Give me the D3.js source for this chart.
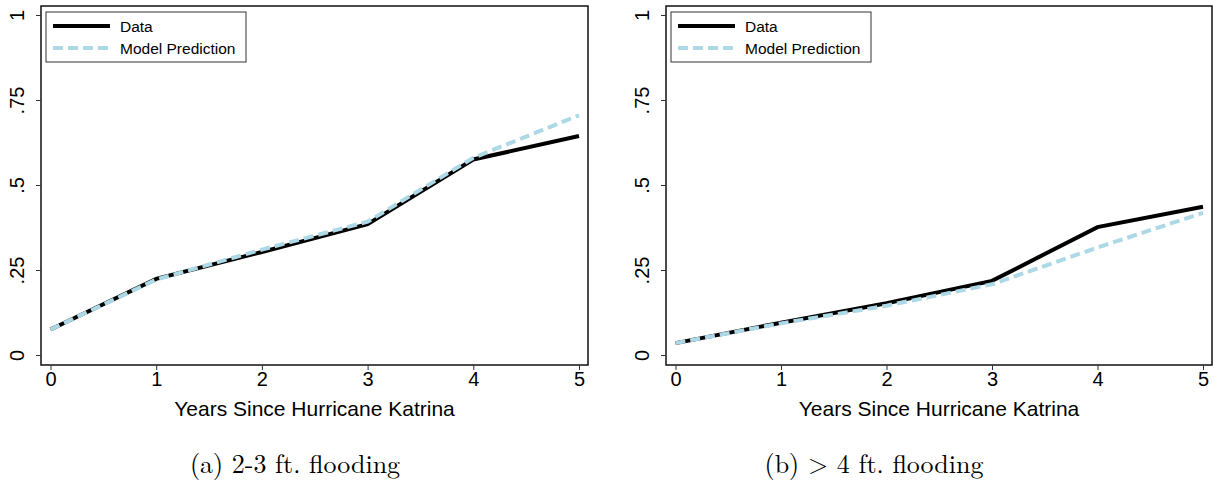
<!DOCTYPE html>
<meta charset="utf-8">
<head>
    <title>Katrina return rates</title>
</head>
<style>
 body { margin: 0; background: white; }
 svg { display: block; }
 .tick text { font-family: "Liberation Sans", Arial, sans-serif; font-size: 20px; fill: #000; }
 .axis path, .axis line { stroke: #333; }
 .xtitle { font-family: "Liberation Sans", Arial, sans-serif; font-size: 21px; }
 .caption { font-family: "Latin Modern Roman", "DejaVu Serif", "Liberation Serif", serif; font-size: 26px; }
 .legend text { font-family: "Liberation Sans", Arial, sans-serif; font-size: 15.5px; }
</style>
<body>
    <div id="chart"></div>
    <script src="https://d3js.org/d3.v7.min.js"></script>
    <script>

     var years = [0, 1, 2, 3, 4, 5];
     var yTicks = [0, 0.25, 0.5, 0.75, 1];
     var yTickLabels = ["0", ".25", ".5", ".75", "1"];

     // (a) 2-3 ft. flooding
     var dataA  = [0.075, 0.224, 0.303, 0.385, 0.575, 0.644];
     var modelA = [0.075, 0.222, 0.310, 0.392, 0.580, 0.705];

     // (b) > 4 ft. flooding
     var dataB  = [0.035, 0.095, 0.152, 0.218, 0.376, 0.436];
     var modelB = [0.035, 0.093, 0.145, 0.208, 0.316, 0.418];

     // layout of the two subfigures (captions are centred like LaTeX subfigures, not on the plot)
     var panels = [
         {left: 41, right: 588, capX: 295, data: dataA, model: modelA, caption: "(a) 2-3 ft. flooding"},
         {left: 666, right: 1212, capX: 874, data: dataB, model: modelB, caption: "(b) > 4 ft. flooding"}
     ];

     var width = 1214, height = 487;
     var plotTop = 6, plotBottom = 365;

     var svg = d3.select("#chart").append("svg")
                 .attr("width", width)
                 .attr("height", height);

     panels.forEach(function (p) {
         var x = d3.scaleLinear()
                   .domain([0, 5])
                   .range([p.left + 9.5, p.right - 9]);
         var y = d3.scaleLinear()
                   .domain([0, 1])
                   .range([plotBottom - 10, plotTop + 9]);

         var g = svg.append("g");

         // plot frame
         g.append("rect")
          .attr("x", p.left)
          .attr("y", plotTop)
          .attr("width", p.right - p.left)
          .attr("height", plotBottom - plotTop)
          .attr("fill", "none")
          .attr("stroke", "#111")
          .attr("stroke-width", 1.5);

         var xAxis = g.append("g")
                      .attr("class", "axis")
                      .attr("transform", "translate(0," + plotBottom + ")")
                      .call(d3.axisBottom(x).tickValues(years).tickSize(5).tickPadding(2)
                              .tickFormat(d3.format("d")));
         xAxis.select(".domain").remove();

         var yAxis = g.append("g")
                      .attr("class", "axis")
                      .attr("transform", "translate(" + p.left + ",0)")
                      .call(d3.axisLeft(y).tickValues(yTicks).tickSize(5)
                              .tickFormat(function (d, i) { return yTickLabels[i]; }));
         yAxis.select(".domain").remove();
         // Stata-style vertical tick labels
         yAxis.selectAll(".tick text")
              .attr("text-anchor", "middle")
              .attr("x", 0)
              .attr("dy", 0)
              .attr("transform", "translate(-17,0) rotate(-90)");

         var line = d3.line()
                      .x(function (d, i) { return x(years[i]); })
                      .y(function (d) { return y(d); });

         g.append("path")
          .datum(p.data)
          .attr("d", line)
          .attr("fill", "none")
          .attr("stroke", "#000")
          .attr("stroke-width", 4);

         g.append("path")
          .datum(p.model)
          .attr("d", line)
          .attr("fill", "none")
          .attr("stroke", "#add8e6")
          .attr("stroke-width", 4)
          .attr("stroke-dasharray", "10,5");

         // legend
         var lg = g.append("g")
                   .attr("class", "legend")
                   .attr("transform", "translate(" + (p.left + 5) + "," + (plotTop + 6) + ")");
         lg.append("rect")
           .attr("width", 200)
           .attr("height", 50)
           .attr("fill", "white")
           .attr("stroke", "#333")
           .attr("stroke-width", 1);
         lg.append("line")
           .attr("x1", 7).attr("x2", 64)
           .attr("y1", 14).attr("y2", 14)
           .attr("stroke", "#000").attr("stroke-width", 4);
         lg.append("text").attr("x", 74).attr("y", 19.5).text("Data");
         lg.append("line")
           .attr("x1", 7).attr("x2", 64)
           .attr("y1", 36).attr("y2", 36)
           .attr("stroke", "#add8e6").attr("stroke-width", 4)
           .attr("stroke-dasharray", "10,5");
         lg.append("text").attr("x", 74).attr("y", 41.5).text("Model Prediction");

         g.append("text")
          .attr("class", "xtitle")
          .attr("x", (p.left + p.right) / 2)
          .attr("y", 416)
          .attr("text-anchor", "middle")
          .text("Years Since Hurricane Katrina");

         g.append("text")
          .attr("class", "caption")
          .attr("x", p.capX)
          .attr("y", 473)
          .attr("text-anchor", "middle")
          .text(p.caption);
     });
    </script>
</body>
